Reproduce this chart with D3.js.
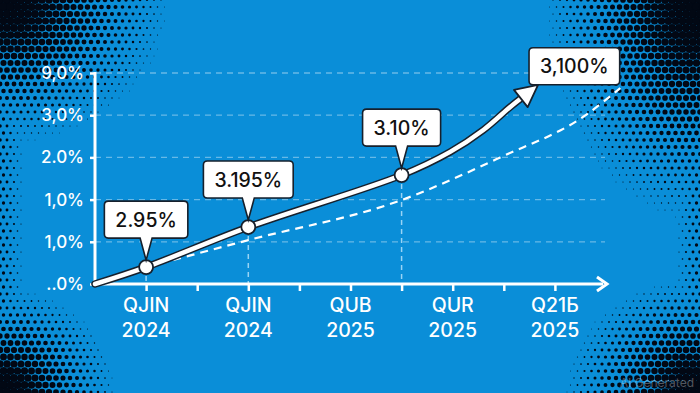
<!DOCTYPE html>
<html><head><meta charset="utf-8">
<script src="https://cdn.jsdelivr.net/npm/d3@7"></script>
<style>html,body{margin:0;padding:0;background:#0a8ed8;overflow:hidden}svg{display:block}</style>
</head><body>
<script>
// ---- data ----
const yTickValues = [0, 1, 2, 3, 4, 5];
const yTickLabels = ["..0%", "1,0%", "1,0%", "2.0%", "3,0%", "9,0%"];
const xTickValues = [0, 1, 2, 3, 4, 5, 6, 7, 8];
const xLabelPositions = [0, 2, 4, 6, 8];
const xLabelLine1 = ["QJIN", "QJIN", "QUB", "QUR", "Q21Б"];
const xLabelLine2 = ["2024", "2024", "2025", "2025", "2025"];
const mainX = [-1, 0, 2, 5, 5.95, 6.6, 7.12, 7.67];
const mainY = [0, 0.4, 1.35, 2.58, 3.13, 3.65, 4.19, 4.72];
const dashX = [0, 2, 5, 6.93, 8.55, 9.28];
const dashY = [0.4, 1.04, 1.99, 3.0, 3.96, 4.64];
const pointX = [0, 2, 5];
const pointY = [0.4, 1.35, 2.58];
const pointLabels = ["2.95%", "3.195%", "3.10%"];
const endLabel = "3,100%";

const W = 700, H = 393;
const svg = d3.select("body").append("svg").attr("width", W).attr("height", H);
const FONT = "Inter, 'Noto Sans', sans-serif";

// background
svg.append("rect").attr("width", W).attr("height", H).attr("fill", "#0a8ed8");

// halftone vignette (corner-weighted)
const dotG = svg.append("g");
const sp = 7;
const dots = [];
const corners = [[0, 0, 175, 150], [W, 0, 160, 230], [0, H, 120, 110], [W, H, 140, 120]];
let row = 0;
for (let gy = 0; gy <= H + sp; gy += sp, row++) {
  for (let gx = row % 2 ? sp / 2 : 0; gx <= W + sp; gx += sp) {
    let t = 0;
    corners.forEach(c => {
      const dx = (gx - c[0]) / c[2], dy = (gy - c[1]) / c[3];
      t = Math.max(t, 1 - Math.sqrt(dx * dx + dy * dy));
    });
    const ex = Math.min(gx, W - gx) / 28;
    t = Math.max(t, (1 - ex) * 0.3);
    t = Math.pow(Math.max(t, 0), 0.8);
    if (t > 0.08) dots.push({x: gx, y: gy, t: Math.min(t * 1.25, 1.2)});
  }
}
dotG.selectAll("circle").data(dots).join("circle")
  .attr("cx", d => d.x).attr("cy", d => d.y)
  .attr("r", d => d.t * 3.8).attr("fill", "#020814");

// scales
const x = d3.scaleLinear().domain([-1, 10]).range([95, 95 + 11 * 51.1]);
const y = d3.scaleLinear().domain([0, 5]).range([284, 73]);
const ink = "#16202c";

// grid
svg.append("g").selectAll("line").data(yTickValues.slice(1)).join("line")
  .attr("x1", x(-1)).attr("x2", 605).attr("y1", d => y(d)).attr("y2", d => y(d))
  .attr("stroke", "rgba(255,255,255,0.38)").attr("stroke-width", 1.3).attr("stroke-dasharray", "6,5");

// vertical dashed lines from points
svg.append("g").selectAll("line").data(pointX).join("line")
  .attr("x1", d => x(d)).attr("x2", d => x(d))
  .attr("y1", (d, i) => y(pointY[i])).attr("y2", y(0))
  .attr("stroke", "rgba(200,235,255,0.75)").attr("stroke-width", 1.5).attr("stroke-dasharray", "5,4");

// y axis
const yAxis = d3.axisLeft(y).tickValues(yTickValues).tickFormat((d, i) => yTickLabels[i]).tickSize(5).tickPadding(6);
const gy = svg.append("g").attr("transform", `translate(${x(-1)},0)`).call(yAxis);
gy.select(".domain").remove();
gy.selectAll(".tick line").attr("stroke", "#fff").attr("stroke-width", 2.5);
gy.selectAll(".tick text").attr("fill", "#fff").attr("font-family", FONT).attr("font-size", 17).attr("font-weight", 500);
svg.append("line").attr("x1", x(-1)).attr("x2", x(-1)).attr("y1", y(5) - 1).attr("y2", y(0))
  .attr("stroke", "#fff").attr("stroke-width", 3);

// x axis
const xAxis = d3.axisBottom(x).tickValues(xTickValues).tickFormat("").tickSize(7);
const gx = svg.append("g").attr("transform", `translate(0,${y(0)})`).call(xAxis);
gx.select(".domain").remove();
gx.selectAll(".tick line").attr("stroke", "#fff").attr("stroke-width", 2.5);
svg.append("line").attr("x1", x(-1) - 1).attr("x2", 603).attr("y1", y(0)).attr("y2", y(0))
  .attr("stroke", "#fff").attr("stroke-width", 3);
svg.append("path").attr("d", `M597,${y(0) - 7} L607,${y(0)} L597,${y(0) + 7}`)
  .attr("fill", "none").attr("stroke", "#fff").attr("stroke-width", 3).attr("stroke-linejoin", "miter");

const xl = svg.append("g").selectAll("g").data(xLabelPositions).join("g")
  .attr("transform", d => `translate(${x(d)},0)`);
xl.append("text").attr("y", 312).text((d, i) => xLabelLine1[i]);
xl.append("text").attr("y", 337).text((d, i) => xLabelLine2[i]);
xl.selectAll("text").attr("text-anchor", "middle").attr("fill", "#fff")
  .attr("font-family", FONT).attr("font-size", 19.5).attr("font-weight", 500);

// dashed projection line
const dashPts = dashX.map((d, i) => [x(d), y(dashY[i])]);
svg.append("path").attr("d", d3.line().curve(d3.curveMonotoneX)(dashPts))
  .attr("fill", "none").attr("stroke", "#fff").attr("stroke-width", 2.2).attr("stroke-dasharray", "8,6");

// main line
const mainPts = mainX.map((d, i) => [x(d), y(mainY[i])]);
const n = mainPts.length;
const tip = mainPts[n - 1];
const prev = mainPts[n - 2];
const ang = Math.atan2(tip[1] - prev[1], tip[0] - prev[0]);
const headLen = 22, headW = 11;
const base = [tip[0] - headLen * Math.cos(ang), tip[1] - headLen * Math.sin(ang)];
const linePts = mainPts.slice(0, n - 1).concat([base]);
const lineGen = d3.line().curve(d3.curveCatmullRom.alpha(0.5));
svg.append("path").attr("d", lineGen(linePts)).attr("fill", "none")
  .attr("stroke", ink).attr("stroke-width", 7.5).attr("stroke-linecap", "round");
svg.append("path").attr("d", lineGen(linePts)).attr("fill", "none")
  .attr("stroke", "#fff").attr("stroke-width", 4.5).attr("stroke-linecap", "round");
const px = -Math.sin(ang), py = Math.cos(ang);
const head = [
  tip,
  [base[0] + px * headW, base[1] + py * headW],
  [base[0] - px * headW, base[1] - py * headW]
];
svg.append("path").attr("d", "M" + head.map(p => p.join(",")).join("L") + "Z")
  .attr("fill", "#fff").attr("stroke", ink).attr("stroke-width", 1.8).attr("stroke-linejoin", "round");

// points
svg.append("g").selectAll("circle").data(pointX).join("circle")
  .attr("cx", d => x(d)).attr("cy", (d, i) => y(pointY[i])).attr("r", 7)
  .attr("fill", "#fff").attr("stroke", ink).attr("stroke-width", 1.8);

// callouts
function callout(cx, bottom, label, withPointer, leftX) {
  const g = svg.append("g");
  const t = g.append("text").text(label).attr("font-family", FONT).attr("font-size", 19.5)
    .attr("font-weight", 500).attr("fill", "#111").attr("text-anchor", "middle");
  const tw = t.node().getComputedTextLength();
  const bw = tw + 22, bh = 37;
  const left = leftX !== undefined ? leftX : cx - bw / 2;
  const top = bottom - bh;
  const mid = left + bw / 2;
  let d = `M${left + 4},${top} H${left + bw - 4} Q${left + bw},${top} ${left + bw},${top + 4} V${bottom - 4} Q${left + bw},${bottom} ${left + bw - 4},${bottom}`;
  if (withPointer) {
    d += ` H${cx + 6} L${cx},${bottom + 22} L${cx - 6},${bottom}`;
  }
  d += ` H${left + 4} Q${left},${bottom} ${left},${bottom - 4} V${top + 4} Q${left},${top} ${left + 4},${top} Z`;
  g.insert("path", "text").attr("d", d).attr("fill", "#fff").attr("stroke", ink).attr("stroke-width", 1.6);
  t.attr("x", mid).attr("y", top + bh / 2 + 7);
}
pointX.forEach((d, i) => {
  callout(x(d), y(pointY[i]) - 29, pointLabels[i], true);
});
callout(tip[0], tip[1], endLabel, false, tip[0] - 9);

// watermark
svg.append("text").attr("x", 694).attr("y", 387).attr("text-anchor", "end")
  .attr("font-family", FONT).attr("font-size", 12).attr("fill", "rgba(255,255,255,0.33)")
  .text("AI Generated");
</script>
</body></html>
